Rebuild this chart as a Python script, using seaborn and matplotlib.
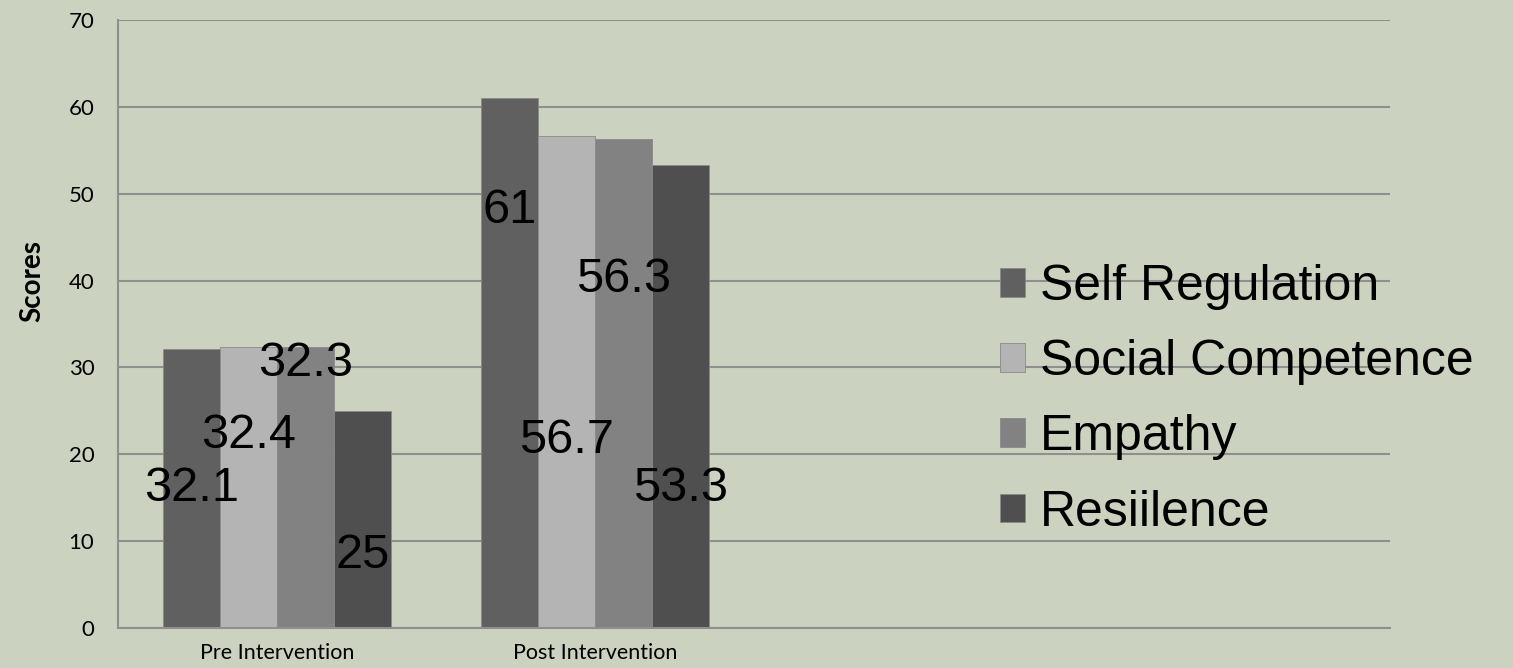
import numpy as np
import pandas as pd
import seaborn as sns
import matplotlib.pyplot as plt

groups = ["Pre Intervention", "Post Intervention"]
series = ["Self Regulation", "Social Competence", "Empathy", "Resiilence"]
pre_scores = [32.1, 32.4, 32.3, 25]
post_scores = [61, 56.7, 56.3, 53.3]
y_ticks = [0, 10, 20, 30, 40, 50, 60, 70]

# where the value labels sit (data units), one row per group, as placed on the slide
label_y = [[16.1, 22.2, 30.5, 8.4],
           [48.1, 21.6, 40.1, 16.1]]

bar_colors = ["#606060", "#b4b4b4", "#828282", "#4f4f4f"]
bg = "#cbd2c0"
grid_col = "#8f8f8f"

df = pd.DataFrame({
    "group": np.repeat(groups, len(series)),
    "series": series * len(groups),
    "score": pre_scores + post_scores,
})

sns.set_style("white")
plt.rcParams["font.family"] = ["Lato", "DejaVu Sans"]
plt.rcParams["text.color"] = "black"
plt.rcParams["axes.labelcolor"] = "black"
plt.rcParams["xtick.labelcolor"] = "black"
plt.rcParams["ytick.labelcolor"] = "black"

fig = plt.figure(figsize=(15.13, 6.68), dpi=100, facecolor=bg)
ax = fig.add_axes([118 / 1513, 40 / 668, 1272 / 1513, 608 / 668])
ax.set_facecolor(bg)

sns.barplot(data=df, x="group", y="score", hue="series", order=groups,
            hue_order=series, palette=bar_colors, width=0.72, gap=0,
            edgecolor="#8a8a8a", linewidth=0.6, saturation=1, ax=ax,
            legend=True, errorbar=None)

ax.set_xlim(-0.5, 3.5)
ax.set_ylim(0, 70)
ax.set_yticks(y_ticks)
ax.set_axisbelow(True)
ax.yaxis.grid(True, color=grid_col, linewidth=1.5)

for s in ["top", "right"]:
    ax.spines[s].set_visible(False)
for s in ["left", "bottom"]:
    ax.spines[s].set_color(grid_col)
    ax.spines[s].set_linewidth(1.5)

ax.set_xticks([0, 1], groups)
ax.set_xticks(np.arange(-0.5, 4, 1), minor=True)
ax.tick_params(axis="x", which="major", length=0, pad=11, labelsize=15.5)
ax.tick_params(axis="x", which="minor", length=5, width=1.5, color=grid_col,
               direction="out")
ax.tick_params(axis="y", length=5, width=1.5, color=grid_col, pad=12,
               labelsize=16)
ax.set_xlabel("")
ax.set_ylabel("Scores", fontsize=20, fontweight="bold")
ax.yaxis.set_label_coords(-0.057, 0.57)

# value labels
vals = [pre_scores, post_scores]
for i, cont in enumerate(ax.containers):
    for j, bar in enumerate(cont):
        xc = bar.get_x() + bar.get_width() / 2
        ax.text(xc, label_y[j][i], f"{vals[j][i]:g}", ha="center", va="center",
                fontsize=35, family="Liberation Sans", color="black")

handles, labels = ax.get_legend_handles_labels()
ax.get_legend().remove()
fig.legend(handles, labels, loc="center left", bbox_to_anchor=(1000 / 1513, 1 - 400 / 668),
           frameon=False, prop={"family": "Liberation Sans", "size": 36},
           labelcolor="black",
           handlelength=0.5, handleheight=0.5, handletextpad=0.3,
           labelspacing=0.58, borderpad=0, borderaxespad=0)

fig.savefig("out.png", dpi=100, facecolor=bg)
